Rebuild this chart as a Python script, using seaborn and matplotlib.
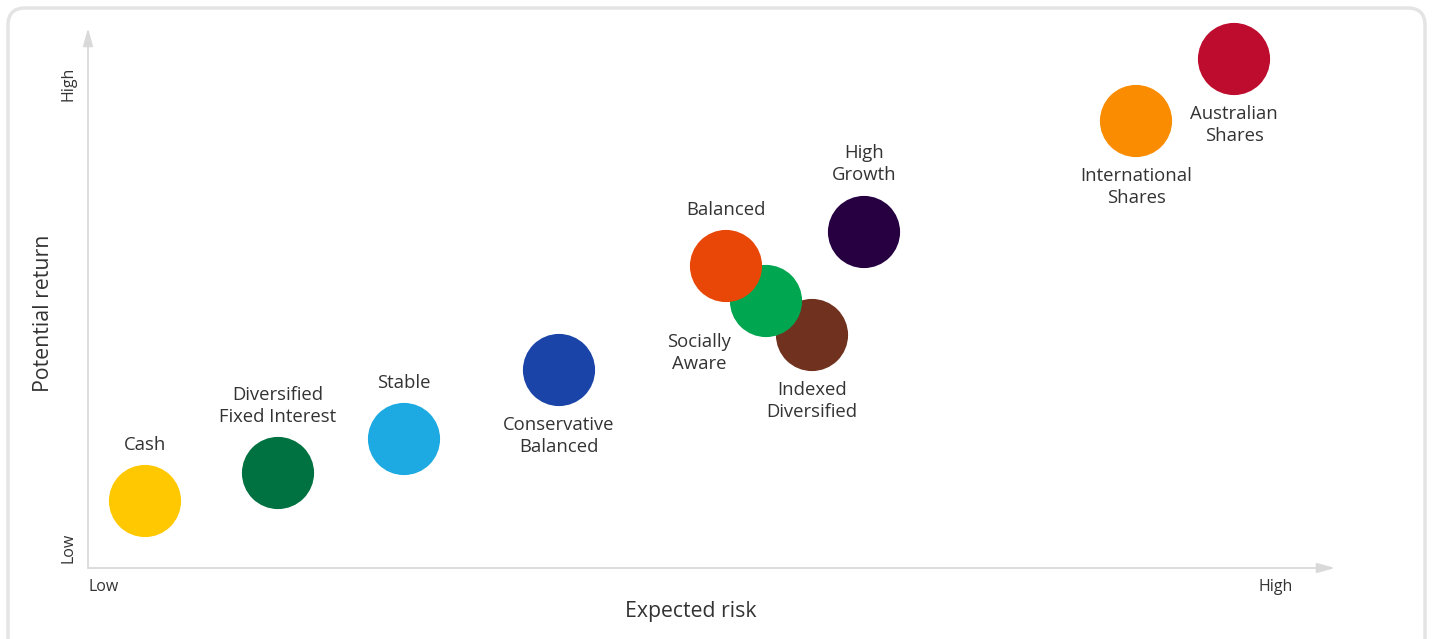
import matplotlib
matplotlib.use("Agg")
import matplotlib.pyplot as plt
import seaborn as sns
import pandas as pd
from matplotlib.patches import FancyBboxPatch

# Data (arbitrary units; x = expected risk, y = potential return)
funds = ["Cash", "Diversified\nFixed Interest", "Stable", "Conservative\nBalanced",
         "Indexed\nDiversified", "Socially\nAware", "Balanced", "High\nGrowth",
         "International\nShares", "Australian\nShares"]
risk = [57, 190, 316, 471, 724, 678, 638, 776, 1048, 1146]
ret = [67, 95, 129, 198, 233, 267, 302, 336, 447, 509]
colors = ["#FFC800", "#007140", "#1DA9E2", "#1A44A8", "#70321E", "#00A650",
          "#E94707", "#270042", "#F98C00", "#BE0C2E"]
# label offsets (dx, dy) relative to bubble centre, in data units
label_dx = [0, 0, 0, 0, 0, -67, 0, 0, 0, 0]
label_dy = [56, 67, 56, -66, -66, -52, 56, 68, -66, -66]

sns.set_theme(style="white")
plt.rcParams['font.family'] = ['Open Sans', 'DejaVu Sans']

W, H = 1433, 639
fig = plt.figure(figsize=(W / 100, H / 100), dpi=100)

# rounded border
border = FancyBboxPatch((8 / W, -20 / H), (W - 16) / W, (H + 12) / H,
                        boxstyle="round,pad=0,rounding_size=0.012",
                        transform=fig.transFigure, fill=False,
                        edgecolor="#e4e4e4", linewidth=2.5, mutation_aspect=W / H)
fig.patches.append(border)

x0, y0, x1, y1 = 88, 568, 1335, 28
ax = fig.add_axes([x0 / W, (H - y0) / H, (x1 - x0) / W, (y0 - y1) / H])

df = pd.DataFrame({"fund": funds, "risk": risk, "ret": ret})
sns.scatterplot(data=df, x="risk", y="ret", hue="fund", palette=colors,
                s=2700, linewidth=0, legend=False, ax=ax, alpha=1)
for coll in ax.collections:
    coll.set_clip_on(False)

ax.set_xlim(0, x1 - x0)
ax.set_ylim(0, y0 - y1)
for s in ax.spines.values():
    s.set_visible(False)
ax.set_xticks([])
ax.set_yticks([])
ax.set_xlabel("")
ax.set_ylabel("")

axcol = "#d9d9d9"
arrow = dict(arrowstyle="-|>,head_length=0.9,head_width=0.25", color=axcol, lw=1.3,
             shrinkA=0, shrinkB=0)
ax.annotate("", xy=(1, 0), xytext=(0, 0), xycoords="axes fraction",
            textcoords="axes fraction", arrowprops=arrow, annotation_clip=False)
ax.annotate("", xy=(0, 1), xytext=(0, 0), xycoords="axes fraction",
            textcoords="axes fraction", arrowprops=arrow, annotation_clip=False)

tc = "#333333"
for f, x, y, dx, dy in zip(funds, risk, ret, label_dx, label_dy):
    ax.text(x + dx, y + dy, f, ha="center", va="center", fontsize=13.3,
            color=tc, linespacing=1.28)

# axis end labels
ax.text(0, -19, "Low", ha="left", va="center", fontsize=11.5, color=tc, clip_on=False)
ax.text(1188, -19, "High", ha="center", va="center", fontsize=11.5, color=tc, clip_on=False)
ax.text(-20, 20, "Low", ha="center", va="center", rotation=90, fontsize=11.5, color=tc, clip_on=False)
ax.text(-20, 484, "High", ha="center", va="center", rotation=90, fontsize=11.5, color=tc, clip_on=False)

fig.text(691 / W, (H - 611) / H, "Expected risk", ha="center", va="center",
         fontsize=15.3, color=tc)
fig.text(44 / W, (H - 313) / H, "Potential return", ha="center", va="center",
         fontsize=15.3, color=tc, rotation=90)

fig.savefig("out.png", dpi=100)
